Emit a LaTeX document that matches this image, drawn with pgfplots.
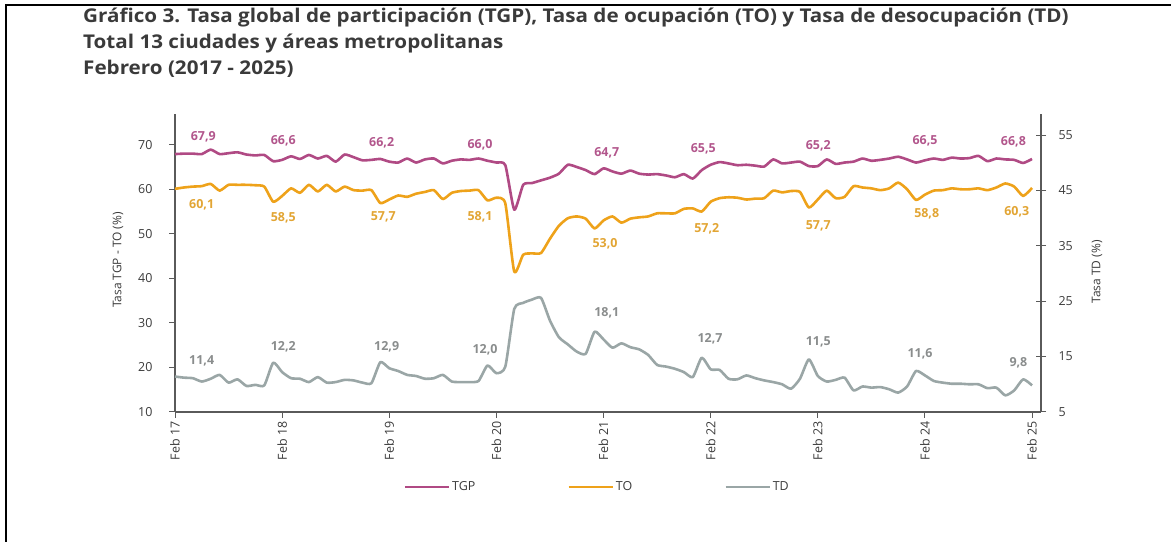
\documentclass[border=0pt]{standalone}
\usepackage{fontspec}
\setmainfont{Open Sans}
\newfontfamily\titleA[FakeStretch=1.09]{Open Sans}
\usepackage{pgfplots}
\pgfplotsset{compat=1.18}
\usepackage{pgfplotstable}
\definecolor{cTGP}{HTML}{B04A84}
\definecolor{cTO}{HTML}{EEA21A}
\definecolor{cTD}{HTML}{9AA6A6}
\definecolor{cTGPl}{HTML}{B2568C}
\definecolor{cTOl}{HTML}{E2A534}
\definecolor{cTDl}{HTML}{8A8D8D}
\definecolor{txt}{HTML}{3A3A3A}
\definecolor{axc}{HTML}{5A5A5A}

\pgfplotstableread{
i tgp to td
0 67.9 60.1 11.4
1 68.0 60.4 11.2
2 68.0 60.6 11.1
3 67.9 60.7 10.5
4 68.9 61.2 11.0
5 67.9 59.7 11.7
6 68.1 61.0 10.3
7 68.3 61.0 10.9
8 67.8 61.0 9.7
9 67.6 60.9 9.9
10 67.7 60.6 9.8
11 66.3 57.2 13.9
12 66.6 58.5 12.2
13 67.4 60.2 11.1
14 66.8 59.2 11.0
15 67.7 61.0 10.4
16 66.9 59.5 11.3
17 67.5 61.0 10.3
18 66.2 59.5 10.4
19 67.8 60.6 10.8
20 67.2 59.8 10.7
21 66.5 59.7 10.3
22 66.6 59.8 10.2
23 66.8 56.9 14.0
24 66.2 57.7 12.9
25 66.0 58.6 12.4
26 66.9 58.3 11.7
27 66.0 59.0 11.5
28 66.7 59.4 11.0
29 66.9 59.8 11.1
30 65.8 57.8 11.7
31 66.4 59.2 10.5
32 66.7 59.6 10.4
33 66.6 59.7 10.4
34 66.9 59.8 10.6
35 66.4 57.5 13.4
36 66.0 58.1 12.0
37 65.4 56.8 13.2
38 55.4 41.5 23.6
39 61.0 45.3 24.7
40 61.4 45.6 25.3
41 62.0 45.7 25.6
42 62.6 48.9 21.5
43 63.5 51.8 18.5
44 65.5 53.5 17.2
45 65.0 53.9 15.9
46 64.3 53.4 15.5
47 63.4 51.2 19.5
48 64.7 53.0 18.1
49 64.0 53.9 16.6
50 63.5 52.5 17.4
51 64.2 53.4 16.7
52 63.5 53.7 16.3
53 63.3 53.9 15.3
54 63.4 54.6 13.5
55 63.1 54.6 13.2
56 62.7 54.6 12.8
57 63.4 55.6 12.2
58 62.4 55.7 11.3
59 64.3 55.0 14.8
60 65.5 57.2 12.7
61 66.1 58.0 12.6
62 65.8 58.2 11.0
63 65.4 58.1 10.9
64 65.5 57.7 11.6
65 65.3 57.9 11.1
66 65.1 58.0 10.7
67 66.7 59.7 10.4
68 65.8 59.3 10.0
69 66.0 59.6 9.2
70 66.2 59.4 11.0
71 65.2 55.9 14.5
72 65.2 57.7 11.5
73 66.7 59.7 10.5
74 65.7 58.0 10.8
75 66.0 58.3 11.2
76 66.2 60.7 8.9
77 66.9 60.4 9.6
78 66.4 60.2 9.4
79 66.6 59.8 9.5
80 66.9 60.2 9.1
81 67.3 61.5 8.5
82 66.7 60.0 9.6
83 66.0 57.6 12.4
84 66.5 58.8 11.6
85 66.9 59.7 10.6
86 66.6 59.8 10.3
87 67.1 60.2 10.1
88 66.9 60.0 10.1
89 67.0 60.0 10.0
90 67.5 60.2 10.0
91 66.3 59.8 9.3
92 66.9 60.4 9.4
93 66.7 61.3 8.0
94 66.6 60.6 8.9
95 65.9 58.5 10.9
96 66.8 60.3 9.8
}\data

\begin{document}
\begin{tikzpicture}
\begin{scope}[x=1bp,y=1bp]
\useasboundingbox (0,0) rectangle (1171,542);
\draw[line width=1.4bp, black] (6,0) -- (6,537) -- (1171,537);
\node[anchor=base west, font=\titleA\fontsize{19}{22}\selectfont\bfseries, text=txt, inner sep=0] at (83,519.3) {Gráfico 3. Tasa global de participación (TGP), Tasa de ocupación (TO) y Tasa de desocupación (TD)};
\node[anchor=base west, font=\titleA\fontsize{19}{22}\selectfont\bfseries, text=txt, inner sep=0] at (83,493.5) {Total 13 ciudades y áreas metropolitanas};
\node[anchor=base west, font=\titleA\fontsize{19}{22}\selectfont\bfseries, text=txt, inner sep=0] at (83,467.8) {Febrero (2017 - 2025)};
\end{scope}

\begin{axis}[
  at={(175bp,130bp)}, anchor=south west,
  scale only axis, width=866bp, height=298bp,
  xmin=0, xmax=97, ymin=10, ymax=76.9,
  axis x line*=bottom, axis y line*=left,
  axis line style={-, draw=axc, line width=1.1bp},
  every tick/.style={draw=axc, line width=1bp},
  tick align=outside, major tick length=6bp,
  xtick={0,12,...,96},
  xticklabels={Feb 17,Feb 18,Feb 19,Feb 20,Feb 21,Feb 22,Feb 23,Feb 24,Feb 25},
  xticklabel style={rotate=90, anchor=east, font=\fontsize{12.5}{14}\selectfont, text=txt},
  ytick={10,20,...,70},
  yticklabel style={font=\fontsize{12.5}{14}\selectfont, text=txt, xshift=-13bp},
  /pgf/number format/assume math mode=true,
  ylabel={Tasa TGP - TO (\%)},
  ylabel style={at={(axis description cs:-0.0658,0.51)}, anchor=center, font=\fontsize{12}{14}\selectfont, text=txt},
  clip=false,
]
\addplot[cTGP, line width=2.6bp, line join=round, smooth, tension=0.35] table[x=i, y=tgp] {\data};
\addplot[cTO, line width=2.6bp, line join=round, smooth, tension=0.35] table[x=i, y=to] {\data};

\tikzset{lab/.style={font=\fontsize{12.5}{14}\selectfont\bfseries, inner sep=0}}
\node[lab, text=cTGPl] at (axis cs:3.17,71.79) {67,9};
\node[lab, text=cTGPl] at (axis cs:12.13,70.90) {66,6};
\node[lab, text=cTGPl] at (axis cs:23.15,70.45) {66,2};
\node[lab, text=cTGPl] at (axis cs:34.17,69.93) {66,0};
\node[lab, text=cTGPl] at (axis cs:48.36,68.21) {64,7};
\node[lab, text=cTGPl] at (axis cs:59.18,69.03) {65,5};
\node[lab, text=cTGPl] at (axis cs:72.06,69.71) {65,2};
\node[lab, text=cTGPl] at (axis cs:84.01,70.90) {66,5};
\node[lab, text=cTGPl] at (axis cs:93.91,70.67) {66,8};

\node[lab, text=cTOl] at (axis cs:2.99,56.48) {60,1};
\node[lab, text=cTOl] at (axis cs:12.13,53.54) {58,5};
\node[lab, text=cTOl] at (axis cs:23.33,53.76) {57,7};
\node[lab, text=cTOl] at (axis cs:34.17,53.86) {58,1};
\node[lab, text=cTOl] at (axis cs:48.17,47.69) {53,0};
\node[lab, text=cTOl] at (axis cs:59.56,51.05) {57,2};
\node[lab, text=cTOl] at (axis cs:72.06,51.77) {57,7};
\node[lab, text=cTOl] at (axis cs:84.20,54.46) {58,8};
\node[lab, text=cTOl] at (axis cs:94.29,54.84) {60,3};

\node[lab, text=cTDl] at (axis cs:2.99,21.57) {11,4};
\node[lab, text=cTDl] at (axis cs:12.13,24.71) {12,2};
\node[lab, text=cTDl] at (axis cs:23.71,24.71) {12,9};
\node[lab, text=cTDl] at (axis cs:34.73,23.97) {12,0};
\node[lab, text=cTDl] at (axis cs:48.36,32.20) {18,1};
\node[lab, text=cTDl] at (axis cs:59.93,26.37) {12,7};
\node[lab, text=cTDl] at (axis cs:72.06,25.83) {11,5};
\node[lab, text=cTDl] at (axis cs:83.45,23.07) {11,6};
\node[lab, text=cTDl] at (axis cs:94.47,20.99) {9,8};
\end{axis}

\begin{axis}[
  at={(175bp,130bp)}, anchor=south west,
  scale only axis, width=866bp, height=298bp,
  xmin=0, xmax=97, ymin=5, ymax=58.8,
  axis x line=none, axis y line*=right,
  axis line style={-, draw=axc, line width=1.1bp},
  every tick/.style={draw=axc, line width=1bp},
  tick align=center, major tick length=10bp,
  ytick={5,15,...,55},
  yticklabel style={font=\fontsize{12.5}{14}\selectfont, text=txt, xshift=9bp},
  /pgf/number format/assume math mode=true,
  ylabel={Tasa TD (\%)},
  ylabel style={at={(axis description cs:1.0647,0.47)}, anchor=center, rotate=0, font=\fontsize{12}{14}\selectfont, text=txt},
  legend image code/.code={\draw[#1] (0bp,0bp) -- (44bp,0bp);},
  legend style={at={(axis description cs:0.4875,-0.2517)}, anchor=center, draw=none, fill=none,
    font=\fontsize{12.5}{14}\selectfont, text=txt, legend columns=3,
    /tikz/every even column/.append style={column sep=90bp}},
  clip=false,
]
\addlegendimage{cTGP, line width=2.6bp}
\addlegendentry{TGP}
\addlegendimage{cTO, line width=2.6bp}
\addlegendentry{TO}
\addplot[cTD, line width=2.6bp, line join=round, smooth, tension=0.35] table[x=i, y=td] {\data};
\addlegendentry{TD}
\end{axis}
\end{tikzpicture}
\end{document}
